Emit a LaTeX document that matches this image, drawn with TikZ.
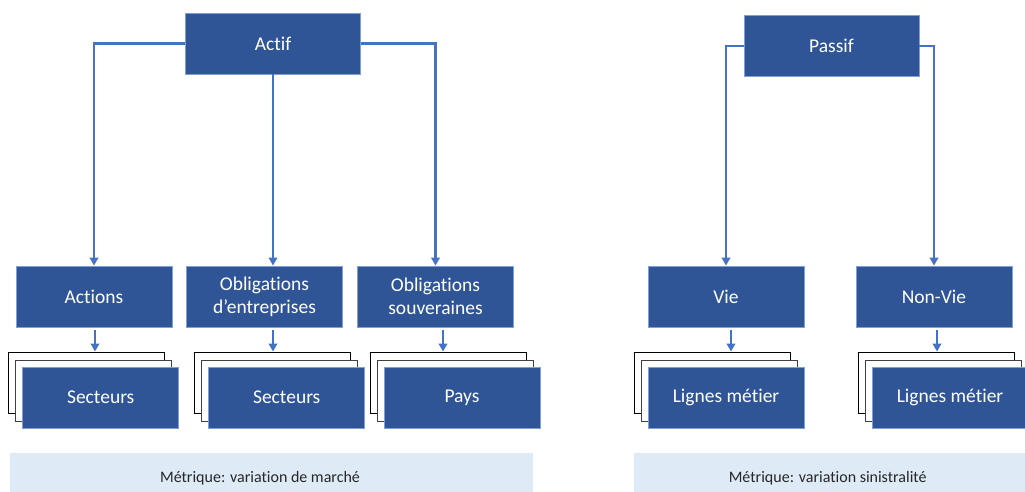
\documentclass[tikz,border=0pt]{standalone}
\usepackage{fontspec}
\setmainfont[Ligatures=NoCommon]{Carlito}
\usepackage{xcolor}
\usepackage{tikz}
\usetikzlibrary{arrows.meta}
\definecolor{boxblue}{HTML}{2F5597}
\definecolor{boxedge}{HTML}{7F9FD8}
\definecolor{linkblue}{HTML}{4472C4}
\definecolor{bandblue}{HTML}{DEEBF7}
\tikzset{
    topbox/.style={fill=boxblue, draw=boxedge, line width=0.8pt, text=white,
          minimum width=175pt, minimum height=61pt, inner sep=0pt, align=center,
          font=\fontsize{19.5}{23}\selectfont},
    subbox/.style={topbox, minimum width=156pt},
    framebox/.style={draw=black, fill=white, line width=0.9pt,
          minimum width=156pt, minimum height=61pt, inner sep=0pt},
    link/.style={draw=linkblue, line width=2.1pt},
    linkarrow/.style={link, -{Triangle[length=8pt, width=8.5pt]}},
    band/.style={fill=bandblue, minimum height=47pt, inner sep=0pt},
    bandtext/.style={text=black!85, inner sep=0pt, font=\fontsize{16}{19}\selectfont}
}

\begin{document}
\begin{tikzpicture}[x=1pt, y=-1pt]
    \useasboundingbox (0,0) rectangle (1025,492);
    \node[topbox] (actif) at (273,43.5) {Actif};
    \node[topbox] (passif) at (831.5,46) {Passif};

    \node[subbox] (actions) at (94,296.5) {Actions};
    \node[subbox] (entreprises) at (264.5,296.5) {Obligations\\d’entreprises};
    \node[subbox] (souveraines) at (435.5,296.5) {Obligations\\souveraines};
    \node[subbox] (vie) at (726,296.5) {Vie};
    \node[subbox] (nonvie) at (934,296.5) {Non-Vie};

    \node[framebox] (actionsC) at (86.7,382.5) {};
    \node[framebox, draw=black!75] (actionsB) at (93.7,390.5) {};
    \node[subbox] (actionsA) at (100.7,397.5) {Secteurs};
    \node[framebox] (entreprisesC) at (272.7,382.5) {};
    \node[framebox, draw=black!75] (entreprisesB) at (279.7,390.5) {};
    \node[subbox] (entreprisesA) at (286.7,397.5) {Secteurs};
    \node[framebox] (souverainesC) at (448,382.5) {};
    \node[framebox, draw=black!75] (souverainesB) at (455,390.5) {};
    \node[subbox] (souverainesA) at (462,397.5) {Pays};
    \node[framebox] (vieC) at (712,382.5) {};
    \node[framebox, draw=black!75] (vieB) at (719,390.5) {};
    \node[subbox] (vieA) at (726,397.5) {Lignes métier};
    \node[framebox] (nonvieC) at (936,382.5) {};
    \node[framebox, draw=black!75] (nonvieB) at (943,390.5) {};
    \node[subbox] (nonvieA) at (950,397.5) {Lignes métier};

    \draw[linkarrow] (actif.west) -| (actions.north);
    \draw[linkarrow] (actif.south) -- (actif.south |- entreprises.north);
    \draw[linkarrow] (actif.east) -| (souveraines.north);
    \draw[linkarrow] (passif.west) -| (vie.north);
    \draw[linkarrow] (passif.east) -| (nonvie.north);

    \draw[linkarrow] ([xshift=1pt, yshift=-2.5pt]actions.south) -- ([xshift=1pt]actions.south |- actionsC.north);
    \draw[linkarrow] ([xshift=8.5pt, yshift=-2.5pt]entreprises.south) -- ([xshift=8.5pt]entreprises.south |- entreprisesC.north);
    \draw[linkarrow] ([xshift=7.5pt, yshift=-2.5pt]souveraines.south) -- ([xshift=7.5pt]souveraines.south |- souverainesC.north);
    \draw[linkarrow] ([xshift=5pt, yshift=-2.5pt]vie.south) -- ([xshift=5pt]vie.south |- vieC.north);
    \draw[linkarrow] ([xshift=3pt, yshift=-2.5pt]nonvie.south) -- ([xshift=3pt]nonvie.south |- nonvieC.north);

    \node[band, minimum width=523pt] (bandactif) at (271.5,476.5) {};
    \node[bandtext, anchor=base] (metactif) at (260,482) {Métrique: variation de marché};
    \node[band, minimum width=400pt] (bandpassif) at (834,476.5) {};
    \node[bandtext, anchor=base] (metpassif) at (827.7,482) {Métrique: variation sinistralité};
\end{tikzpicture}
\end{document}
